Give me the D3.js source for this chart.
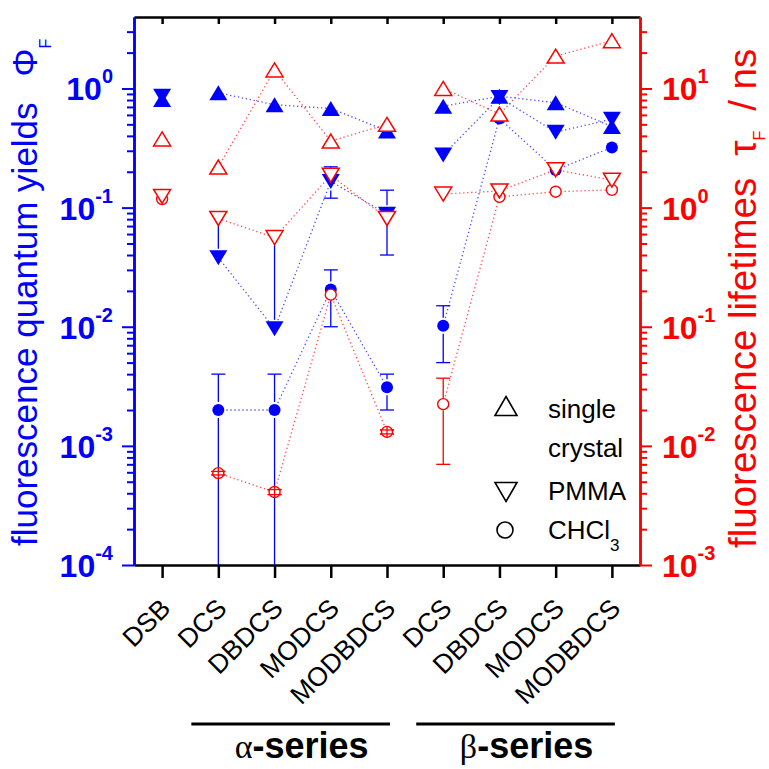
<!DOCTYPE html>
<html lang="en">
<head>
<meta charset="UTF-8">
<title>Fluorescence quantum yields and lifetimes</title>
<script src="https://d3js.org/d3.v7.min.js"></script>
<style>
    body {margin: 0; background: #ffffff;}
    text {font-family: "Liberation Sans", Arial, sans-serif;}
</style>
</head>
<body>
<div id="chart"></div>

<script>
// compounds on the x axis: DSB, then the alpha series, then the beta series
var ids = ["DSB", "a-DCS", "a-DBDCS", "a-MODCS", "a-MODBDCS", "b-DCS", "b-DBDCS", "b-MODCS", "b-MODBDCS"];
var tickLabels = ["DSB", "DCS", "DBDCS", "MODCS", "MODBDCS", "DCS", "DBDCS", "MODCS", "MODBDCS"];
var alphaIds = ["a-DCS", "a-DBDCS", "a-MODCS", "a-MODBDCS"];
var betaIds = ["b-DCS", "b-DBDCS", "b-MODCS", "b-MODBDCS"];

// fluorescence quantum yields (left axis)
var phiCrystal = [0.81, 0.92, 0.73, 0.68, 0.44, 0.71, 0.86, 0.76, 0.48];
var phiPMMA    = [0.86, 0.038, 0.0096, 0.166, 0.088, 0.277, 0.84, 0.43, 0.553];
var phiCHCl3   = [null, 0.002, 0.002, 0.0205, 0.0031, 0.0102, 0.56, 0.207, 0.32];

// fluorescence lifetimes in ns (right axis)
var tauCrystal = [3.77, 2.19, 14.3, 3.62, 5.0, 10.0, 6.1, 18.7, 25.2];
var tauPMMA    = [1.24, 0.81, 0.56, 1.87, 0.81, 1.30, 1.38, 2.08, 1.70];
var tauCHCl3   = [1.18, 0.0059, 0.0041, 0.186, 0.0131, 0.0224, 1.23, 1.36, 1.41];

// error bars [low, high]
var phiPMMAErr  = [null, [0.038, 0.092], [0.0096, 0.064], [0.12, 0.22], [0.04, 0.14], null, null, null, null];
var phiCHCl3Err = [null, [0.00001, 0.004], [0.00001, 0.004], [0.01, 0.03], [0.002, 0.004], [0.005, 0.015], null, null, null];
var tauCHCl3Err = [null, [0.0057, 0.0061], [0.0039, 0.0043], null, [0.0126, 0.0136], [0.007, 0.037], null, null, null];

// axis ticks
var phiDecades = [1e-4, 1e-3, 1e-2, 1e-1, 1];
var tauDecades = [1e-3, 1e-2, 1e-1, 1, 10];

// legend
var legendLabels = ["single", "PMMA", "CHCl"];

var width = 769, height = 769;
var mLeft = 134, mRight = 640, mTop = 17, mBottom = 565;
var blue = "#0000ff", red = "#ff0000";

var svg = d3.select("#chart").append("svg")
    .attr("width", width)
    .attr("height", height);

// Scales
var x = d3.scalePoint().domain(ids).range([mLeft, mRight]).padding(0.5);
var yL = d3.scaleLog().domain([1e-4, Math.pow(10, 0.6)]).range([mBottom, mTop]);
var yR = d3.scaleLog().domain([1e-3, Math.pow(10, 1.6)]).range([mBottom, mTop]);

function minorTicks(decades, scale) {
    var out = [];
    var dom = scale.domain();
    decades.forEach(function(d){
        for (var k = 2; k <= 9; k++) {
            if (d * k <= dom[1]) out.push(d * k);
        }
    });
    return out;
}

// clip for marks that run past the frame
svg.append("clipPath").attr("id", "plotClip")
    .append("rect")
    .attr("x", mLeft).attr("y", mTop)
    .attr("width", mRight - mLeft).attr("height", mBottom - mTop);

// Top and bottom axes (black)
svg.append("g")
    .attr("transform", "translate(0," + mTop + ")")
    .call(d3.axisTop(x).tickSize(-7).tickSizeOuter(0).tickFormat(""))
    .call(function(g){
        g.select(".domain").attr("stroke", "#000").attr("stroke-width", 2.5);
        g.selectAll(".tick line").attr("stroke", "#000").attr("stroke-width", 2.5);
    });

svg.append("g")
    .attr("transform", "translate(0," + mBottom + ")")
    .call(d3.axisBottom(x).tickSize(13).tickSizeOuter(0).tickFormat(""))
    .call(function(g){
        g.select(".domain").attr("stroke", "#000").attr("stroke-width", 2.5);
        g.selectAll(".tick line").attr("stroke", "#000").attr("stroke-width", 2.5);
    });

// rotated compound names
svg.selectAll(".xlabel")
    .data(ids)
    .enter()
    .append("text")
        .attr("class", "xlabel")
        .attr("transform", function(d){
            return "translate(" + (x(d) + 10) + "," + 610 + ") rotate(-45)";
        })
        .attr("text-anchor", "end")
        .attr("font-size", "26.5px")
        .attr("fill", "#000")
        .text(function(d, i){ return tickLabels[i]; });

// Left axis (blue)
function styleAxis(g, color) {
    g.select(".domain").attr("stroke", color).attr("stroke-width", 2.5);
    g.selectAll(".tick line").attr("stroke", color).attr("stroke-width", 2);
}

svg.append("g")
    .attr("transform", "translate(" + mLeft + ",0)")
    .call(d3.axisLeft(yL).tickValues(minorTicks(phiDecades, yL)).tickSize(7).tickSizeOuter(0).tickFormat(""))
    .call(function(g){ styleAxis(g, blue); });
svg.append("g")
    .attr("transform", "translate(" + mLeft + ",0)")
    .call(d3.axisLeft(yL).tickValues(phiDecades).tickSize(12).tickSizeOuter(0).tickFormat(""))
    .call(function(g){ styleAxis(g, blue); });

// Right axis (red)
svg.append("g")
    .attr("transform", "translate(" + mRight + ",0)")
    .call(d3.axisRight(yR).tickValues(minorTicks(tauDecades, yR)).tickSize(7).tickSizeOuter(0).tickFormat(""))
    .call(function(g){ styleAxis(g, red); });
svg.append("g")
    .attr("transform", "translate(" + mRight + ",0)")
    .call(d3.axisRight(yR).tickValues(tauDecades).tickSize(12).tickSizeOuter(0).tickFormat(""))
    .call(function(g){ styleAxis(g, red); });

// power of ten labels
function powerLabel(sel, anchor, xPos, scale, color) {
    sel.append("text")
        .attr("x", xPos)
        .attr("y", function(d){ return scale(d) + 12; })
        .attr("text-anchor", anchor)
        .attr("font-weight", "bold")
        .attr("fill", color)
        .each(function(d){
            var t = d3.select(this);
            t.append("tspan").attr("font-size", "32px").text("10");
            t.append("tspan").attr("font-size", "20px").attr("dy", -17)
                .text(String(Math.round(Math.log10(d))));
        });
}
powerLabel(svg.append("g").selectAll("g").data(phiDecades).enter(), "end", 113, yL, blue);
powerLabel(svg.append("g").selectAll("g").data(tauDecades).enter(), "start", 662, yR, red);

// Axis titles
var titleL = svg.append("text")
    .attr("transform", "translate(37,546) rotate(-90)")
    .attr("fill", blue)
    .attr("font-size", "35px");
titleL.append("tspan").text("fluorescence quantum yields");
titleL.append("tspan").attr("dx", 26).text("\u03A6");
titleL.append("tspan").attr("font-size", "16px").attr("dy", 14).text("F");

var titleR = svg.append("text")
    .attr("transform", "translate(756,548) rotate(-90)")
    .attr("fill", red)
    .attr("font-size", "38.5px");
titleR.append("tspan").text("fluorescence lifetimes");
titleR.append("tspan").attr("dx", 22).text("\u03C4");
titleR.append("tspan").attr("font-size", "16px").attr("dy", 9).text("F");
titleR.append("tspan").attr("dx", 20).attr("dy", -9).text("/ ns");

// Plot layer
var plot = svg.append("g").attr("clip-path", "url(#plotClip)");

function seriesPoints(values, scale, groupIds) {
    return groupIds.map(function(id){
        var i = ids.indexOf(id);
        return {x: x(id), y: values[i] == null ? null : scale(values[i])};
    }).filter(function(p){ return p.y != null; });
}

var line = d3.line().x(function(p){ return p.x; }).y(function(p){ return p.y; });

function drawLines(values, scale, color) {
    [alphaIds, betaIds].forEach(function(groupIds){
        plot.append("path")
            .datum(seriesPoints(values, scale, groupIds))
            .attr("d", line)
            .attr("fill", "none")
            .attr("stroke", color)
            .attr("stroke-width", 1.3)
            .attr("stroke-dasharray", "1.3,2.7")
            .attr("opacity", 0.7);
    });
}
drawLines(phiCrystal, yL, blue);
drawLines(phiPMMA, yL, blue);
drawLines(phiCHCl3, yL, blue);
drawLines(tauCrystal, yR, red);
drawLines(tauPMMA, yR, red);
drawLines(tauCHCl3, yR, red);

// error bars: vertical segments stop short of the marker
function drawErrors(values, errs, scale, color, gap) {
    errs.forEach(function(e, i){
        if (!e) return;
        var cx = x(ids[i]);
        var cy = scale(values[i]);
        var yHi = scale(e[1]);
        var yLo = Math.min(scale(e[0]), mBottom + 20);
        var g = plot.append("g").attr("stroke", color).attr("stroke-width", 1.3);
        if (yHi < cy - gap) {
            g.append("line").attr("x1", cx).attr("x2", cx).attr("y1", yHi).attr("y2", cy - gap);
        }
        if (yLo > cy + gap) {
            g.append("line").attr("x1", cx).attr("x2", cx).attr("y1", cy + gap).attr("y2", yLo);
        }
        if (e[1] > values[i]) {
            g.append("line").attr("x1", cx - 7).attr("x2", cx + 7).attr("y1", yHi).attr("y2", yHi);
        }
        if (e[0] < values[i] && yLo < mBottom) {
            g.append("line").attr("x1", cx - 7).attr("x2", cx + 7).attr("y1", yLo).attr("y2", yLo);
        }
    });
}
drawErrors(phiPMMA, phiPMMAErr, yL, blue, 9);
drawErrors(phiCHCl3, phiCHCl3Err, yL, blue, 8);

function triPath(w, h, up) {
    if (up) return "M0," + (-h / 2) + "L" + (w / 2) + "," + (h / 2) + "L" + (-w / 2) + "," + (h / 2) + "Z";
    return "M0," + (h / 2) + "L" + (w / 2) + "," + (-h / 2) + "L" + (-w / 2) + "," + (-h / 2) + "Z";
}

function drawMarkers(values, scale, kind, filled, color) {
    var pts = ids.map(function(id, i){ return {id: id, v: values[i]}; })
        .filter(function(p){ return p.v != null; });
    var sel = plot.append("g").selectAll("path").data(pts).enter();
    if (kind == "circle") {
        sel.append("circle")
            .attr("cx", function(p){ return x(p.id); })
            .attr("cy", function(p){ return scale(p.v); })
            .attr("r", filled ? 6 : 5.5)
            .attr("fill", filled ? color : "#fff")
            .attr("stroke", color)
            .attr("stroke-width", filled ? 0 : 1.4);
    } else {
        sel.append("path")
            .attr("transform", function(p){ return "translate(" + x(p.id) + "," + scale(p.v) + ")"; })
            .attr("d", filled ? triPath(18, 15, kind == "up") : triPath(17, 14, kind == "up"))
            .attr("fill", filled ? color : "#fff")
            .attr("stroke", color)
            .attr("stroke-width", filled ? 0 : 1.5);
    }
}
drawMarkers(phiCHCl3, yL, "circle", true, blue);
drawMarkers(phiPMMA, yL, "down", true, blue);
drawMarkers(phiCrystal, yL, "up", true, blue);

drawErrors(tauCHCl3, tauCHCl3Err, yR, red, 6);
drawMarkers(tauCHCl3, yR, "circle", false, red);
drawMarkers(tauPMMA, yR, "down", false, red);
drawMarkers(tauCrystal, yR, "up", false, red);
// caps of tiny lifetime error bars sit over the circles
tauCHCl3Err.forEach(function(e, i){
    if (!e) return;
    var cx = x(ids[i]);
    if (yR(e[0]) - yR(e[1]) < 12) {
        [e[0], e[1]].forEach(function(v){
            plot.append("line").attr("stroke", red).attr("stroke-width", 1.3)
                .attr("x1", cx - 7).attr("x2", cx + 7)
                .attr("y1", yR(v)).attr("y2", yR(v));
        });
        plot.append("line").attr("stroke", red).attr("stroke-width", 1.3)
            .attr("x1", cx).attr("x2", cx)
            .attr("y1", yR(tauCHCl3[i]) - 5.5).attr("y2", yR(tauCHCl3[i]) + 5.5);
    }
});

// Legend
var legend = svg.append("g");
legend.append("path").attr("transform", "translate(506,406)").attr("d", triPath(22, 19, true))
    .attr("fill", "none").attr("stroke", "#000").attr("stroke-width", 1.6);
legend.append("path").attr("transform", "translate(506,492)").attr("d", triPath(22, 19, false))
    .attr("fill", "none").attr("stroke", "#000").attr("stroke-width", 1.6);
legend.append("circle").attr("cx", 505).attr("cy", 530).attr("r", 8)
    .attr("fill", "none").attr("stroke", "#000").attr("stroke-width", 1.6);
legend.append("text").attr("x", 548).attr("y", 418).attr("font-size", "26px").text(legendLabels[0]);
legend.append("text").attr("x", 548).attr("y", 457).attr("font-size", "26px").text("crystal");
legend.append("text").attr("x", 548).attr("y", 500).attr("font-size", "26px").text(legendLabels[1]);
var chcl = legend.append("text").attr("x", 548).attr("y", 539).attr("font-size", "26px");
chcl.append("tspan").text(legendLabels[2]);
chcl.append("tspan").attr("font-size", "17px").attr("dy", 12).text("3");

// Series brackets under the axis
[{ids: alphaIds, sym: "\u03B1"}, {ids: betaIds, sym: "\u03B2"}].forEach(function(s){
    var x0 = x(s.ids[0]), x1 = x(s.ids[s.ids.length - 1]);
    svg.append("line")
        .attr("x1", x0 - 27).attr("x2", x1 + 3)
        .attr("y1", 724).attr("y2", 724)
        .attr("stroke", "#000").attr("stroke-width", 3);
    var t = svg.append("text")
        .attr("x", (x0 + x1) / 2 - 1)
        .attr("y", 758)
        .attr("text-anchor", "middle")
        .attr("fill", "#000");
    t.append("tspan").attr("font-family", "'Liberation Serif', 'Times New Roman', serif")
        .attr("font-size", "34px").text(s.sym);
    t.append("tspan").attr("font-weight", "bold").attr("font-size", "36px").text("-series");
});
</script>
</body>
</html>
